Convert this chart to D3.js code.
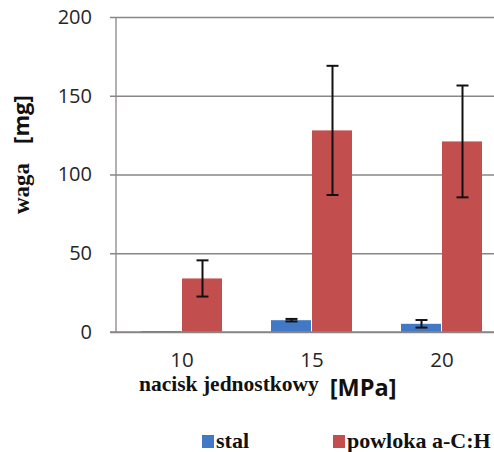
<!DOCTYPE html>
<html>
<head>
<meta charset="utf-8">
<script src="https://cdn.jsdelivr.net/npm/d3@7"></script>
<style>
  html, body { margin: 0; padding: 0; background: #fff; }
  svg { display: block; }
</style>
</head>
<body>
<svg id="chart" width="494" height="452"></svg>
<script>
// Load levels on the x axis [MPa]
const categories = ["10", "15", "20"];
const seriesNames = ["stal", "powloka a-C:H"];
// Mean mass [mg] per series
const stalValues = [0.6, 7.5, 5.2];
const coatingValues = [34, 128, 121];
// Error bar half-widths [mg]
const stalErrors = [0, 0.8, 2.4];
const coatingErrors = [11.5, 41, 35.5];
const yTicks = [0, 50, 100, 150, 200];

const colors = { "stal": "#4279c6", "powloka a-C:H": "#c24e4e" };

const svg = d3.select("#chart");
const margin = { left: 116, top: 17, bottom: 332 };

const x = d3.scaleBand().domain(categories).range([117, 507]).paddingInner(0).paddingOuter(0);
const y = d3.scaleLinear().domain([0, 200]).range([margin.bottom, margin.top]);
const xs = d3.scaleBand().domain(seriesNames).range([24, 130 - 24]);

const sans = "'Open Sans', 'Liberation Sans', sans-serif";
const serif = "'Liberation Serif', 'Times New Roman', serif";

// Horizontal gridlines with ticks extending left of the axis
const yAxis = d3.axisLeft(y).tickValues(yTicks).tickSize(-400).tickPadding(24);
const gy = svg.append("g").attr("transform", `translate(${margin.left},0)`).call(yAxis);
gy.select(".domain").remove();
gy.selectAll(".tick line").attr("x1", -6).attr("stroke", "#8a8686").attr("stroke-width", 1.3);
gy.selectAll(".tick text")
  .attr("font-family", sans)
  .attr("font-size", 20)
  .attr("fill", "#262626");

// Vertical axis line
svg.append("line")
  .attr("x1", margin.left).attr("x2", margin.left)
  .attr("y1", y(200)).attr("y2", y(0))
  .attr("stroke", "#8a8686").attr("stroke-width", 1.3);

const rows = categories.map((c, i) => [
  { cat: c, name: "stal", v: stalValues[i], e: stalErrors[i] },
  { cat: c, name: "powloka a-C:H", v: coatingValues[i], e: coatingErrors[i] }
]).flat();

const bars = svg.append("g");
bars.selectAll("rect").data(rows).join("rect")
  .attr("x", d => x(d.cat) + xs(d.name))
  .attr("width", xs.bandwidth() - 1)
  .attr("y", d => y(d.v))
  .attr("height", d => y(0) - y(d.v))
  .attr("fill", d => colors[d.name]);

// Baseline over the bars
svg.append("line")
  .attr("x1", margin.left - 6).attr("x2", 494)
  .attr("y1", y(0)).attr("y2", y(0))
  .attr("stroke", "#8a8686").attr("stroke-width", 1.5);

// Error bars
const err = svg.append("g").attr("stroke", "#111").attr("stroke-width", 2);
rows.filter(d => d.e > 0).forEach(d => {
  const cx = x(d.cat) + xs(d.name) + xs.bandwidth() / 2;
  err.append("line").attr("x1", cx).attr("x2", cx).attr("y1", y(d.v + d.e)).attr("y2", y(d.v - d.e));
  err.append("line").attr("x1", cx - 6).attr("x2", cx + 6).attr("y1", y(d.v + d.e)).attr("y2", y(d.v + d.e));
  err.append("line").attr("x1", cx - 6).attr("x2", cx + 6).attr("y1", y(d.v - d.e)).attr("y2", y(d.v - d.e));
});

// Category labels
svg.append("g").selectAll("text").data(categories).join("text")
  .attr("x", d => x(d) + x.bandwidth() / 2)
  .attr("y", 367)
  .attr("text-anchor", "middle")
  .attr("font-family", sans)
  .attr("font-size", 20.5)
  .attr("fill", "#262626")
  .text(d => d);

// Axis titles
const xTitle = svg.append("text").attr("x", 139).attr("y", 391).attr("fill", "#111");
xTitle.append("tspan")
  .attr("font-family", serif)
  .attr("font-weight", "bold").attr("font-size", 21.5)
  .text("nacisk jednostkowy");
xTitle.append("tspan")
  .attr("dx", 11).attr("dy", 5)
  .attr("font-family", sans)
  .attr("font-weight", "bold").attr("font-size", 23.5)
  .text("[MPa]");

const yTitle = svg.append("text")
  .attr("transform", "translate(29,214) rotate(-90)")
  .attr("fill", "#111");
yTitle.append("tspan")
  .attr("font-family", serif)
  .attr("font-weight", "bold").attr("font-size", 23)
  .text("waga");
yTitle.append("tspan")
  .attr("dx", 19)
  .attr("font-family", sans)
  .attr("font-weight", "bold").attr("font-size", 22)
  .text("[mg]");

// Legend
const legendX = [202, 333];
const legend = svg.append("g");
seriesNames.forEach((n, i) => {
  legend.append("rect").attr("x", legendX[i]).attr("y", 435).attr("width", 12).attr("height", 13).attr("fill", colors[n]);
  legend.append("text")
    .attr("x", legendX[i] + 14).attr("y", 448)
    .attr("font-family", serif)
    .attr("font-weight", "bold").attr("font-size", 22)
    .attr("fill", "#111")
    .text(n);
});
</script>
</body>
</html>
